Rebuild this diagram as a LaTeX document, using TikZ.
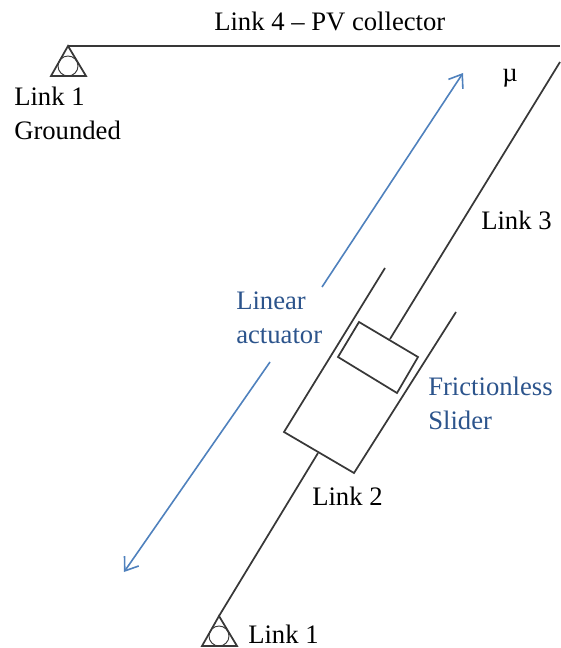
\documentclass[tikz,border=0pt]{standalone}
\usepackage{fontspec}
\setmainfont{Liberation Serif}
\usetikzlibrary{arrows.meta}
\definecolor{LinkGray}{RGB}{56,56,56}
\definecolor{ActuatorBlue}{RGB}{79,129,189}
\definecolor{LabelBlue}{RGB}{44,84,140}

\begin{document}
\begin{tikzpicture}[x=0.75pt,y=-0.75pt,
  every node/.style={font=\fontsize{20}{25.5}\selectfont, align=left, inner sep=0pt},
  linkline/.style={draw=LinkGray, line width=1.3pt},
  moveline/.style={ActuatorBlue, line width=1.2pt, -{Straight Barb[length=9pt,width=13pt]}}]
  \useasboundingbox (0,0) rectangle (560,648);
  % coordinates of the mechanism
  \coordinate (groundtop) at (68,46);
  \coordinate (collectorend) at (560,46);
  \coordinate (groundbot) at (219,616);
  \coordinate (rodbot) at (318,453);
  \coordinate (rodtop) at (390,339);
  \coordinate (rodend) at (560,62);
  \coordinate (cylA) at (385,268);
  \coordinate (cylB) at (284,432);
  \coordinate (cylC) at (354,473);
  \coordinate (cylD) at (456,312);
  \coordinate (pistA) at (359,322);
  \coordinate (pistB) at (418,357);
  \coordinate (pistC) at (397,393);
  \coordinate (pistD) at (338,357);
  \coordinate (arrowupstart) at (322,287);
  \coordinate (arrowupend) at (463,73);
  \coordinate (arrowdownstart) at (270,362);
  \coordinate (arrowdownend) at (124,572);
  % pivots
  \foreach \pivotx/\pivoty in {68/46,219/616} {
    \draw[linkline] (\pivotx,\pivoty) -- ++(-17,30) -- ++(35,0) -- cycle;
    \draw[LinkGray, line width=0.7pt] (\pivotx,\pivoty+20) circle [radius=10];
  }
  % links
  \draw[linkline, line width=1.6pt] (groundtop) -- (collectorend);
  \draw[linkline] (rodtop) -- (rodend);
  \draw[linkline] (groundbot) -- (rodbot);
  \draw[linkline] (cylA) -- (cylB) -- (cylC) -- (cylD);
  \draw[linkline] (pistA) -- (pistB) -- (pistC) -- (pistD) -- cycle;
  % actuator travel
  \draw[moveline] (arrowupstart) -- (arrowupend);
  \draw[moveline] (arrowdownstart) -- (arrowdownend);
  % labels
  \node[anchor=base west] (collector) at (214,31) {Link 4 -- PV collector};
  \node[anchor=base west] (mu) at (502,82) {µ};
  \node[anchor=west] (grounded) at (14,113) {Link 1\\Grounded};
  \node[anchor=base west] (linkthree) at (481,229) {Link 3};
  \node[anchor=west, text=LabelBlue] (actuator) at (236,318) {Linear\\actuator};
  \node[anchor=west, text=LabelBlue] (slider) at (428,403) {Frictionless\\Slider};
  \node[anchor=base west] (linktwo) at (312,505) {Link 2};
  \node[anchor=base west] (linkone) at (248,643) {Link 1};
\end{tikzpicture}
\end{document}
